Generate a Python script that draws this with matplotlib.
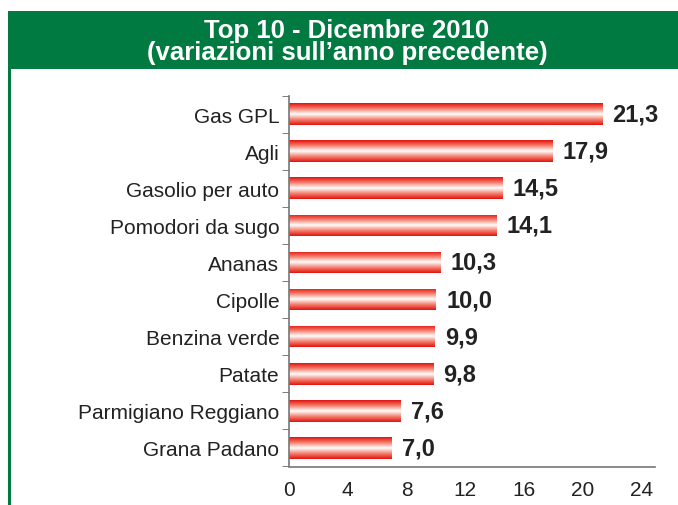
import numpy as np
import matplotlib
matplotlib.use("Agg")
import matplotlib.pyplot as plt
from matplotlib.patches import Rectangle
from matplotlib.colors import LinearSegmentedColormap

categories = ["Gas GPL", "Agli", "Gasolio per auto", "Pomodori da sugo", "Ananas",
              "Cipolle", "Benzina verde", "Patate", "Parmigiano Reggiano", "Grana Padano"]
values = [21.3, 17.9, 14.5, 14.1, 10.3, 10.0, 9.9, 9.8, 7.6, 7.0]
value_labels = ["21,3", "17,9", "14,5", "14,1", "10,3", "10,0", "9,9", "9,8", "7,6", "7,0"]
xticks = [0, 4, 8, 12, 16, 20, 24]
title = "Top 10 - Dicembre 2010\n(variazioni sull\u2019anno precedente)"

plt.rcParams['font.family'] = ['Liberation Sans', 'DejaVu Sans']

W, H = 678, 506
fig = plt.figure(figsize=(W / 100, H / 100), dpi=100)
fig.patch.set_facecolor("white")

green = "#007a40"
# banner
fig.add_artist(Rectangle((8 / W, 1 - 70 / H), 1 - 8 / W, 58 / H, transform=fig.transFigure,
                         facecolor=green, edgecolor="none", zorder=0))
# left green border line
fig.add_artist(Rectangle((8 / W, 0), 2.5 / W, 1 - 70 / H, transform=fig.transFigure,
                         facecolor=green, edgecolor="none", zorder=0))
fig.text(347 / W, 1 - 42 / H, title, ha="center", va="center", color="white",
         fontsize=18.5, fontweight="bold", linespacing=0.92)

ax = fig.add_axes([289 / W, 1 - 467.5 / H, (655 - 289) / W, (467.5 - 96.5) / H])
n = len(categories)
ypos = np.arange(n)
bars = ax.barh(ypos, values, height=0.58, color="none", edgecolor="none")

cmap = LinearSegmentedColormap.from_list("g", ["#e3140f", "#f4806f", "#ffffff", "#f4806f", "#e3140f"])
grad = np.linspace(0, 1, 64).reshape(-1, 1)
for b in bars:
    x0, y0 = b.get_x(), b.get_y()
    w, h = b.get_width(), b.get_height()
    im = ax.imshow(grad, cmap=cmap, aspect="auto", extent=(x0, x0 + w, y0 + h, y0),
                   interpolation="bilinear", zorder=2)
    im.set_clip_path(b)

for y, v, lab in zip(ypos, values, value_labels):
    ax.text(v + 0.7, y, lab, ha="left", va="center", fontsize=17, fontweight="bold", color="#222222")

ax.set_xlim(0, 24.9)
ax.set_ylim(n - 0.5, -0.5)
ax.set_xticks(xticks)
ax.set_xticklabels([str(t) for t in xticks], fontsize=15, color="#222222")
ax.set_yticks(ypos)
ax.set_yticklabels(categories, fontsize=15, color="#222222")
ax.set_yticks(np.arange(-0.5, n, 1.0), minor=True)
ax.tick_params(axis="y", which="major", length=0, pad=7)
ax.tick_params(axis="y", which="minor", length=5, color="#666666", direction="out")
ax.tick_params(axis="x", length=0, pad=10)
for s in ["top", "right"]:
    ax.spines[s].set_visible(False)
for s in ["left", "bottom"]:
    ax.spines[s].set_color("#777777")
    ax.spines[s].set_linewidth(1.2)

fig.savefig("out.png", dpi=100)
